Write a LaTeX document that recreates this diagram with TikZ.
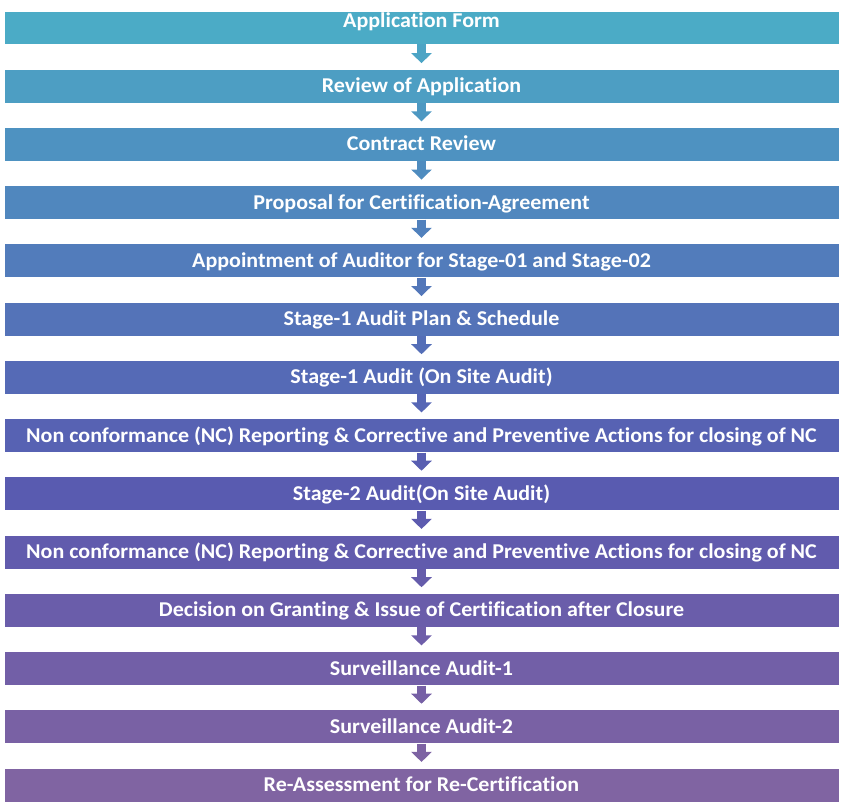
\documentclass[tikz,border=0pt]{standalone}
\usepackage{fontspec}
\setmainfont{Carlito}[FakeStretch=1.045, Ligatures=NoCommon]
\usetikzlibrary{arrows.meta}
\definecolor{c0}{RGB}{75,171,198}
\definecolor{c1}{RGB}{77,158,195}
\definecolor{c2}{RGB}{78,146,193}
\definecolor{c3}{RGB}{80,135,190}
\definecolor{c4}{RGB}{82,124,187}
\definecolor{c5}{RGB}{84,115,184}
\definecolor{c6}{RGB}{85,106,182}
\definecolor{c7}{RGB}{87,98,179}
\definecolor{c8}{RGB}{89,91,176}
\definecolor{c9}{RGB}{97,91,173}
\definecolor{c10}{RGB}{106,93,170}
\definecolor{c11}{RGB}{114,95,167}
\definecolor{c12}{RGB}{121,97,164}
\definecolor{c13}{RGB}{128,100,162}

\begin{document}
\begin{tikzpicture}[x=0.75pt,y=0.75pt,yscale=-1,xscale=1,
    stepbox/.style={fill=#1, draw=white, line width=0.4pt, minimum width=626.25pt, inner xsep=0pt, inner ysep=0pt,
        text height=17.8pt, text depth=7.7pt, text=white, font=\bfseries\fontsize{15.8pt}{18pt}\selectfont},
    flow/.style={draw=#1, line width=7pt, -{Triangle[width=15pt,length=7.5pt]}, shorten >=4.2pt}]
    \useasboundingbox (0,0) rectangle (843,811);
    % steps
    \node [stepbox=c0, text height=12.2pt, text depth=12.5pt] (form) at (421.5,27.5) {Application Form};
    \node [stepbox=c1] (review) at (421.5,86) {Review of Application};
    \node [stepbox=c2] (contract) at (421.5,144.2) {Contract Review};
    \node [stepbox=c3] (proposal) at (421.5,202.4) {Proposal for Certification-Agreement};
    \node [stepbox=c4] (auditor) at (421.5,260.7) {Appointment of Auditor for Stage-01 and Stage-02};
    \node [stepbox=c5] (plan) at (421.5,318.9) {Stage-1 Audit Plan \& Schedule};
    \node [stepbox=c6] (stageone) at (421.5,377.1) {Stage-1 Audit (On Site Audit)};
    \node [stepbox=c7] (ncone) at (421.5,435.3) {Non conformance (NC) Reporting \& Corrective and Preventive Actions for closing of NC};
    \node [stepbox=c8] (stagetwo) at (421.5,493.6) {Stage-2 Audit(On Site Audit)};
    \node [stepbox=c9] (nctwo) at (421.5,551.8) {Non conformance (NC) Reporting \& Corrective and Preventive Actions for closing of NC};
    \node [stepbox=c10] (decision) at (421.5,610.1) {Decision on Granting \& Issue of Certification after Closure};
    \node [stepbox=c11] (survone) at (421.5,668.3) {Surveillance Audit-1};
    \node [stepbox=c12] (survtwo) at (421.5,726.6) {Surveillance Audit-2};
    \node [stepbox=c13] (reassess) at (421.5,784.8) {Re-Assessment for Re-Certification};
    % arrows
    \draw [flow=c0!50!c1] (form.south) -- (review.north);
    \draw [flow=c1!50!c2] (review.south) -- (contract.north);
    \draw [flow=c2!50!c3] (contract.south) -- (proposal.north);
    \draw [flow=c3!50!c4] (proposal.south) -- (auditor.north);
    \draw [flow=c4!50!c5] (auditor.south) -- (plan.north);
    \draw [flow=c5!50!c6] (plan.south) -- (stageone.north);
    \draw [flow=c6!50!c7] (stageone.south) -- (ncone.north);
    \draw [flow=c7!50!c8] (ncone.south) -- (stagetwo.north);
    \draw [flow=c8!50!c9] (stagetwo.south) -- (nctwo.north);
    \draw [flow=c9!50!c10] (nctwo.south) -- (decision.north);
    \draw [flow=c10!50!c11] (decision.south) -- (survone.north);
    \draw [flow=c11!50!c12] (survone.south) -- (survtwo.north);
    \draw [flow=c12!50!c13] (survtwo.south) -- (reassess.north);
\end{tikzpicture}
\end{document}
